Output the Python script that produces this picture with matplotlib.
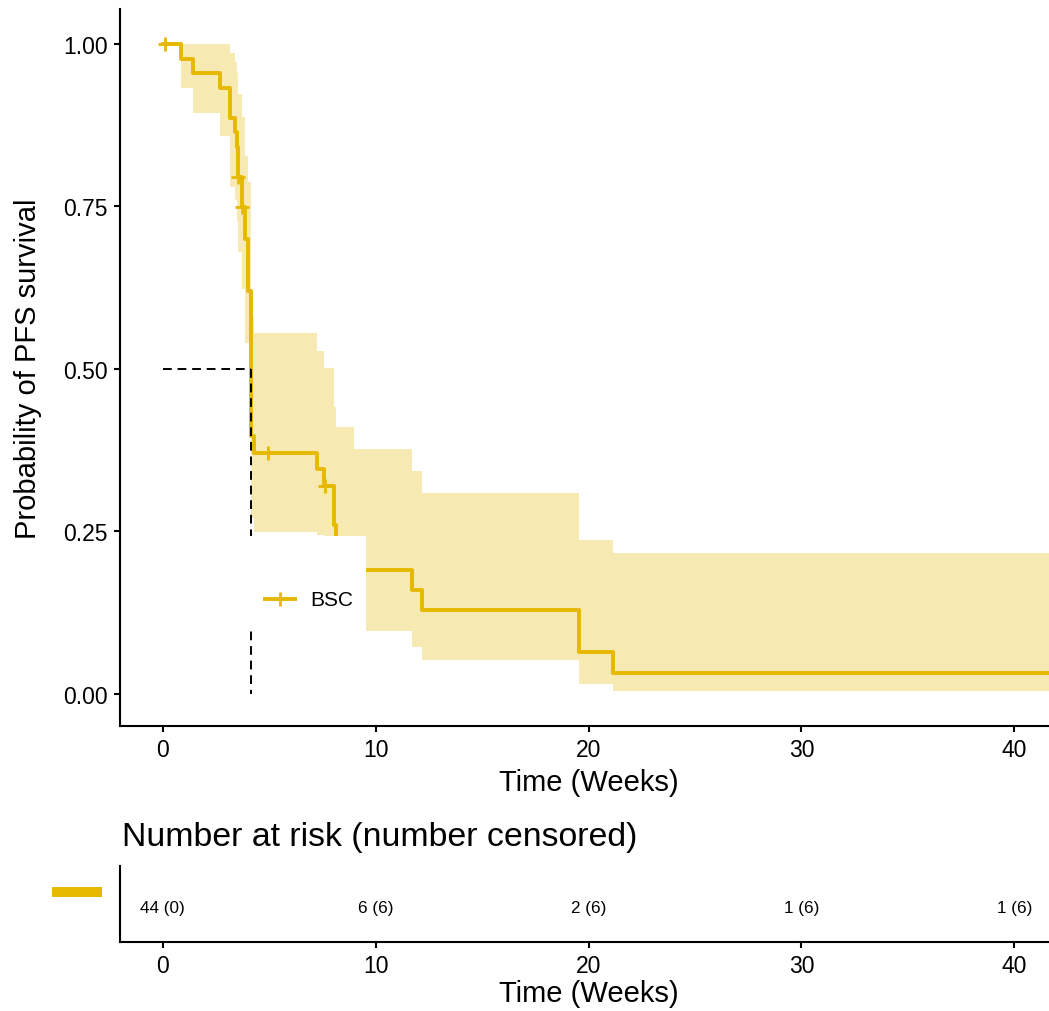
import matplotlib
matplotlib.use("Agg")
import matplotlib.pyplot as plt
from matplotlib.patches import Rectangle
from matplotlib.lines import Line2D

plt.rcParams['font.family'] = ['Liberation Sans', 'DejaVu Sans']

# KM step table (time in weeks, value holds from that time on)
step_times = [0, 0.87, 1.45, 2.70, 3.17, 3.40, 3.48, 3.56, 3.72, 3.88, 4.03, 4.17,
              4.31, 7.24, 7.58, 8.05, 8.15, 9.00, 11.72, 12.17, 19.57, 21.16]
surv = [1.0, 0.977, 0.955, 0.932, 0.886, 0.864, 0.841, 0.795, 0.749, 0.700, 0.620, 0.397,
        0.371, 0.346, 0.320, 0.260, 0.231, 0.190, 0.159, 0.128, 0.064, 0.032]
upper = [1.0, 1.0, 1.0, 1.0, 0.987, 0.972, 0.956, 0.923, 0.888, 0.828, 0.787, 0.580,
         0.555, 0.527, 0.501, 0.441, 0.410, 0.377, 0.342, 0.309, 0.237, 0.216]
lower = [1.0, 0.933, 0.894, 0.858, 0.780, 0.760, 0.726, 0.680, 0.623, 0.540, 0.540, 0.270,
         0.248, 0.244, 0.200, 0.150, 0.120, 0.097, 0.071, 0.051, 0.015, 0.0035]
t_end = 42

# censored observations
censor_times = [0.12, 3.56, 3.72, 4.97, 7.63]
censor_surv = [1.0, 0.795, 0.749, 0.371, 0.320]

median_time = 4.17

# risk table
risk_times = [0, 10, 20, 30, 40]
risk_labels = ['44 (0)', '6 (6)', '2 (6)', '1 (6)', '1 (6)']

xticks = [0, 10, 20, 30, 40]
yticks = [0.0, 0.25, 0.50, 0.75, 1.00]

col = '#E7B800'
W, H = 1049, 1012


def box(l, t, r, b):
  # pixel box -> figure fractions
  return [l / W, 1 - b / H, (r - l) / W, (b - t) / H]


def style_axis(a):
  a.spines['top'].set_visible(False)
  a.spines['right'].set_visible(False)
  for s in ('left', 'bottom'):
    a.spines[s].set_linewidth(1.5)
  a.tick_params(width=1.5, length=4.3, labelsize=16.5, pad=4.5, colors='black')


fig = plt.figure(figsize=(W / 100, H / 100), dpi=100)

# MAIN KM PLOT
ax = fig.add_axes(box(120, 10, 1057, 727))
xs = step_times + [t_end]
ax.fill_between(xs, lower + [lower[-1]], upper + [upper[-1]], step='post',
                color=col, alpha=0.3, lw=0, zorder=1)
ax.step(xs, surv + [surv[-1]], where='post', color=col, lw=2.8, zorder=3)
ax.plot(censor_times, censor_surv, '+', color=col, ms=9.5, mew=2, zorder=3)

# median lines go on top of the curve
ax.plot([0, median_time], [0.5, 0.5], color='black', lw=1.4, ls=(0, (4.5, 3)), zorder=4)
ax.plot([median_time, median_time], [0.5, 0], color='black', lw=1.4, ls=(0, (4.5, 3)), zorder=4)

ax.set_xlim(-2, 42)
ax.set_ylim(-0.05, 1.054)
ax.set_xticks(xticks)
ax.set_yticks(yticks)
ax.set_yticklabels([f'{v:.2f}' for v in yticks])
style_axis(ax)
ax.set_xlabel('Time (Weeks)', fontsize=21, labelpad=5)
ax.set_ylabel('Probability of PFS survival', fontsize=21, labelpad=15)

# legend drawn by hand (white box sitting over the ribbon)
fig.add_artist(Rectangle((247 / W, 1 - 632 / H), (366 - 247) / W, (632 - 537) / H,
                         transform=fig.transFigure, facecolor='white', edgecolor='none', zorder=5))
fig.add_artist(Line2D([265 / W, 295 / W], [1 - 600 / H] * 2, transform=fig.transFigure,
                      color=col, lw=2.8, zorder=6))
fig.add_artist(Line2D([280 / W], [1 - 600 / H], transform=fig.transFigure, marker='+',
                      color=col, ms=9.5, mew=2, zorder=6))
fig.text(310 / W, 1 - 601 / H, 'BSC', fontsize=15, va='center', ha='left', zorder=6)

# RISK TABLE
fig.text(122 / W, 1 - 838 / H, 'Number at risk (number censored)', fontsize=24.4,
         va='center', ha='left')

rax = fig.add_axes(box(120, 867, 1057, 943))
rax.set_xlim(-2, 42)
rax.set_ylim(0, 1)
for t, lab in zip(risk_times, risk_labels):
  rax.text(t, 0.45, lab, fontsize=12.3, ha='center', va='center')
rax.set_xticks(xticks)
rax.set_yticks([])
style_axis(rax)
rax.set_xlabel('Time (Weeks)', fontsize=21, labelpad=1.5)

# strata colour bar in place of the y label
fig.add_artist(Line2D([52 / W, 102 / W], [1 - 893 / H] * 2, transform=fig.transFigure,
                      color=col, lw=7.2, solid_capstyle='butt'))

fig.savefig('out.png', dpi=100)
